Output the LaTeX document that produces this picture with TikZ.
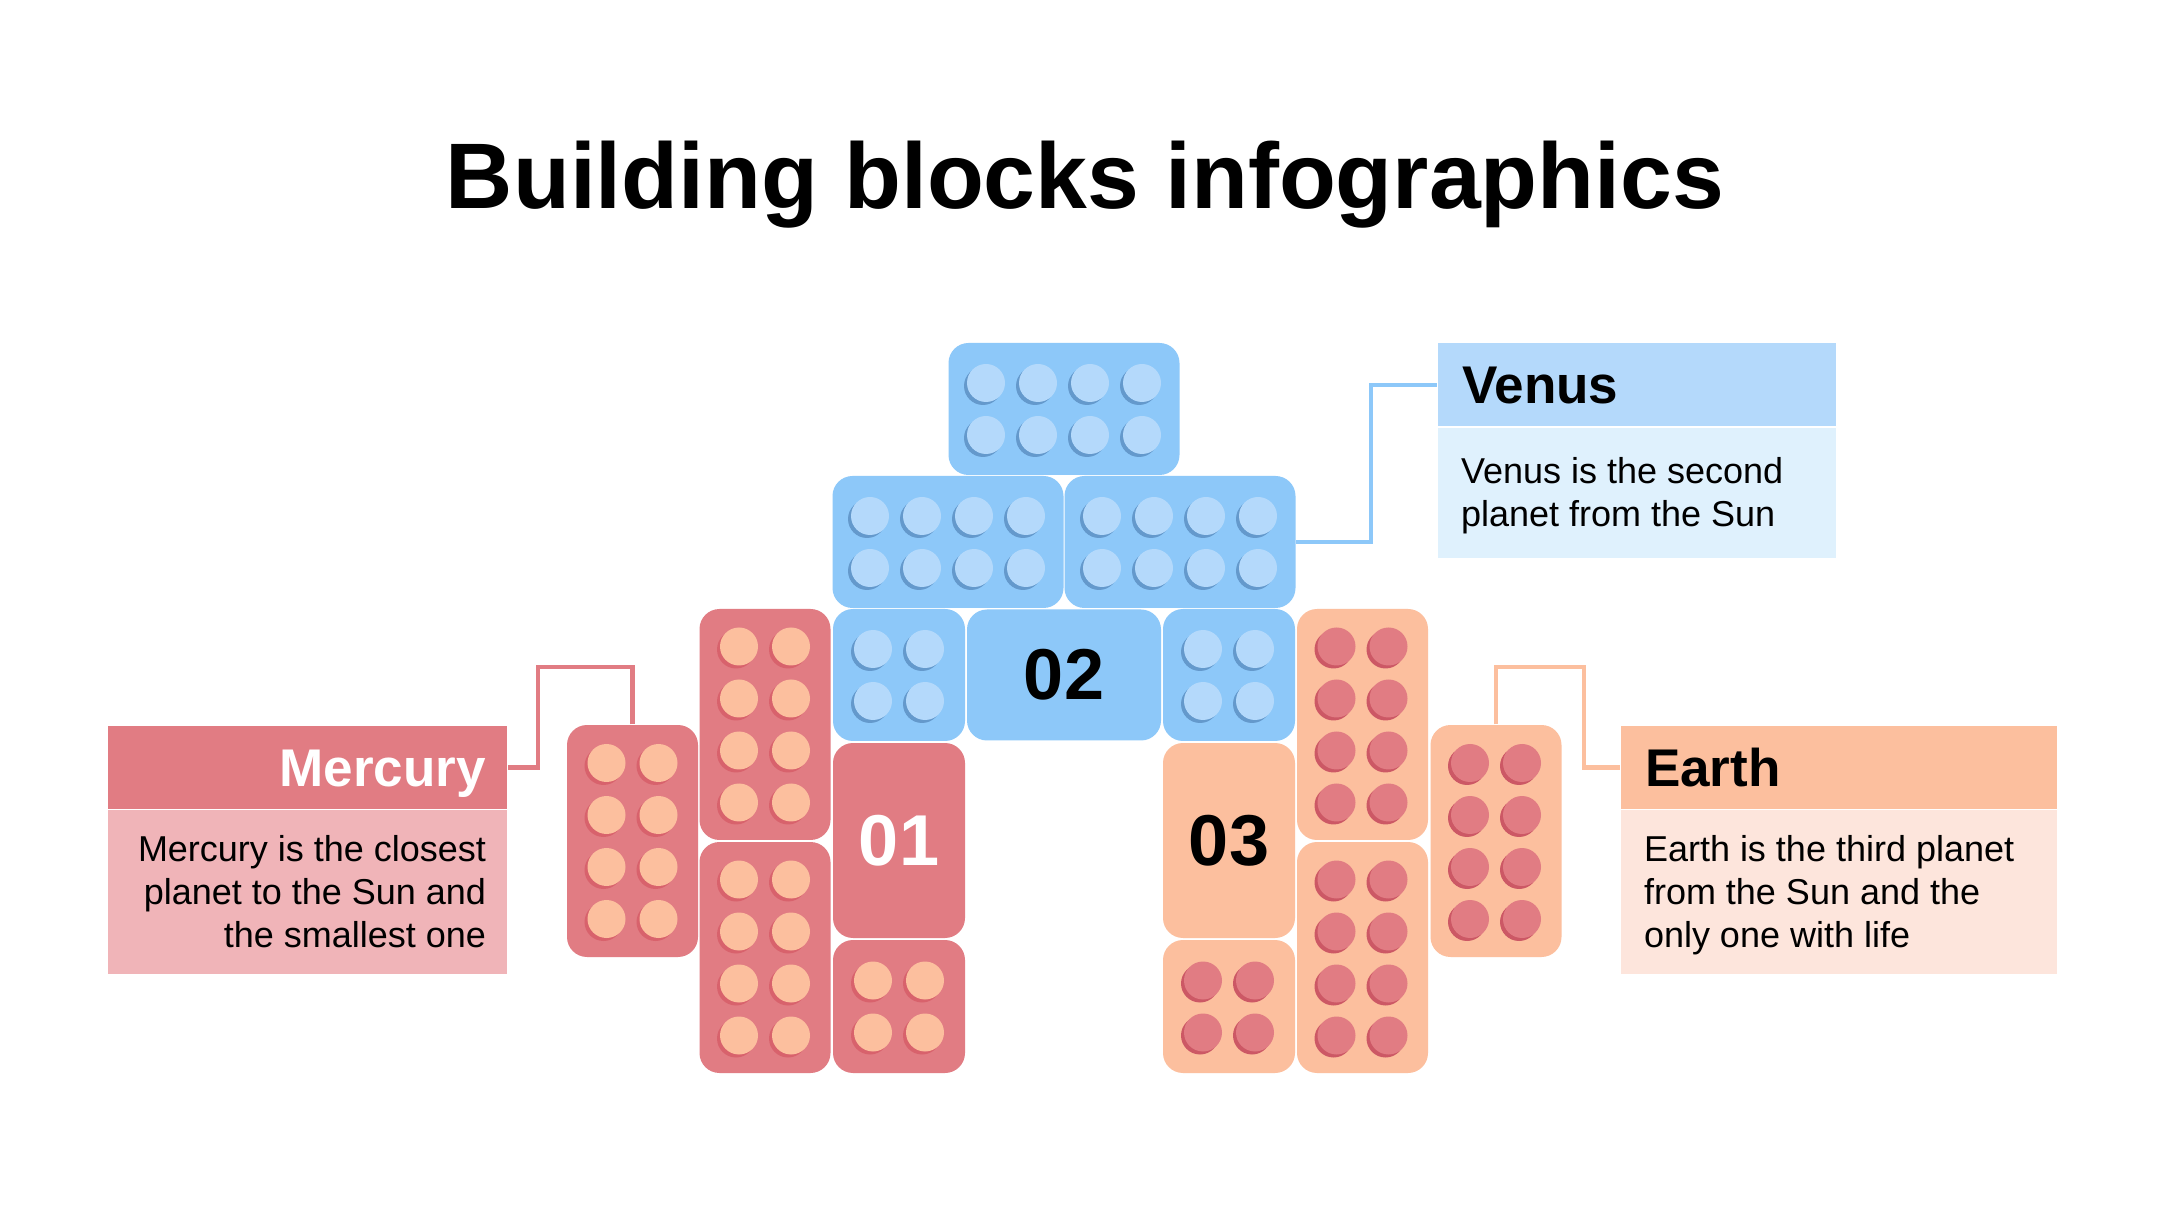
\documentclass[tikz,border=0pt]{standalone}
\usepackage{fontspec}
\setmainfont{Liberation Sans}
\usetikzlibrary{positioning}

\definecolor{sky}{HTML}{8DC8F9}
\definecolor{skystud}{HTML}{B4D9FB}
\definecolor{skyshade}{HTML}{6499CC}
\definecolor{skypale}{HTML}{DFF1FD}
\definecolor{rose}{HTML}{E17C83}
\definecolor{roseshade}{HTML}{CC5865}
\definecolor{rosepale}{HTML}{F0B4B8}
\definecolor{peach}{HTML}{FCBF9E}
\definecolor{peachshade}{HTML}{D8626C}
\definecolor{peachpale}{HTML}{FDE5DC}

% studs of a brick: centre x, centre y, columns, rows, stud colour, shade colour
\newcommand{\studs}[6]{%
  \foreach \i in {1,...,#3}{\foreach \j in {1,...,#4}{
    \fill[#6] ({#1+(\i-(#3+1)/2)*52-3},{#2+(\j-(#4+1)/2)*52+3}) circle[radius=1.9mm];
    \fill[#5] ({#1+(\i-(#3+1)/2)*52},{#2+(\j-(#4+1)/2)*52}) circle[radius=1.9mm];
  }}}

\begin{document}
\begin{tikzpicture}[x=0.1mm,y=-0.1mm,
  brick/.style={rounded corners=2mm, inner sep=0pt},
  wide/.style={brick, minimum width=23.1mm, minimum height=13.2mm},
  square/.style={brick, minimum width=13.2mm, minimum height=13.2mm},
  tall/.style={brick, minimum width=13.1mm, minimum height=23.1mm},
  numbox/.style={brick, minimum width=13.2mm, minimum height=19.5mm, text height=5mm, text depth=0pt, font=\fontsize{20.5}{24}\selectfont\bfseries},
  head/.style={minimum height=8.3mm, text height=3.8mm, text depth=0pt, inner ysep=0pt, font=\fontsize{15.1}{18}\selectfont\bfseries},
  body/.style={minimum height=16.4mm, inner sep=0pt},
  info/.style={inner sep=0pt, font=\fontsize{10.24}{12.24}\selectfont},
  link/.style={line width=1.2pt}]
\fill[white] (0,0) rectangle (2160,1215);
\useasboundingbox (0,0) rectangle (2160,1215);

\node[font=\fontsize{26.5}{32}\selectfont\bfseries, anchor=base] (title) at (1085,209) {Building blocks infographics};

% Venus bricks
\node[wide, fill=sky] (top) at (1064,409) {};
\node[wide, fill=sky] (r2L) at (948,542) {};
\node[wide, fill=sky] (r2R) at (1180,542) {};
\node[square, fill=sky] (b3L) at (899,675) {};
\node[square, fill=sky] (b3R) at (1229,675) {};
\node[brick, fill=sky, minimum width=19.4mm, minimum height=13.1mm, text height=5mm, text depth=0pt, font=\fontsize{20.5}{24}\selectfont\bfseries] (num2) at (1064,675) {02};
\studs{1064}{409}{4}{2}{skystud}{skyshade}
\studs{948}{542}{4}{2}{skystud}{skyshade}
\studs{1180}{542}{4}{2}{skystud}{skyshade}
\studs{899}{675}{2}{2}{skystud}{skyshade}
\studs{1229}{675}{2}{2}{skystud}{skyshade}

% Mercury bricks
\node[tall, fill=rose] (tallL1) at (765,724.5) {};
\node[tall, fill=rose] (tallL2) at (765,957.5) {};
\node[tall, fill=rose, minimum height=23.2mm] (sideL) at (632.5,841) {};
\node[numbox, fill=rose, text=white] (num1) at (899,840.5) {01};
\node[square, fill=rose, minimum height=13.3mm] (smallL) at (899,1006.5) {};
\studs{765}{724.5}{2}{4}{peach}{peachshade}
\studs{765}{957.5}{2}{4}{peach}{peachshade}
\studs{632.5}{841}{2}{4}{peach}{peachshade}
\studs{899}{1006.5}{2}{2}{peach}{peachshade}

% Earth bricks
\node[tall, fill=peach] (tallR1) at (1362.5,724.5) {};
\node[tall, fill=peach] (tallR2) at (1362.5,957.5) {};
\node[tall, fill=peach, minimum height=23.2mm] (sideR) at (1496,841) {};
\node[numbox, fill=peach] (num3) at (1229,840.5) {03};
\node[square, fill=peach, minimum height=13.3mm] (smallR) at (1229,1006.5) {};
\studs{1362.5}{724.5}{2}{4}{rose}{roseshade}
\studs{1362.5}{957.5}{2}{4}{rose}{roseshade}
\studs{1496}{841}{2}{4}{rose}{roseshade}
\studs{1229}{1006.5}{2}{2}{rose}{roseshade}

% labels
\node[head, fill=rose, text=white, text width=35.7mm, inner xsep=2.1mm, align=right] (mhead) at (307.5,767.5) {Mercury};
\node[body, fill=rosepale, minimum width=39.9mm, below=0pt of mhead] (mbody) {};
\node[info, anchor=north east, align=right] (mtext) at ([xshift=-2.1mm,yshift=-2.5mm]mbody.north east) {Mercury is the closest\\planet to the Sun and\\the smallest one};

\node[head, fill=skystud, text width=35mm, inner xsep=2.4mm, align=left] (vhead) at (1637,385) {Venus};
\node[body, fill=skypale, minimum width=39.8mm, minimum height=13mm, below=0pt of vhead] (vbody) {};
\node[info, anchor=north west, align=left] (vtext) at ([xshift=2.3mm,yshift=-3mm]vbody.north west) {Venus is the second\\planet from the Sun};

\node[head, fill=peach, text width=38.8mm, inner xsep=2.4mm, align=left] (ehead) at (1839,767.5) {Earth};
\node[body, fill=peachpale, minimum width=43.6mm, below=0pt of ehead] (ebody) {};
\node[info, anchor=north west, align=left] (etext) at ([xshift=2.3mm,yshift=-2.5mm]ebody.north west) {Earth is the third planet\\from the Sun and the\\only one with life};

% connectors
\draw[link, rose] (sideL.north) -- ++(0,-57) -| ([xshift=3mm]mhead.east) -- (mhead.east);
\draw[link, sky] (r2R.east) -- ++(75,0) |- (vhead.west);
\draw[link, peach] (sideR.north) -- ++(0,-57) -| ([xshift=-3.6mm]ehead.west) -- (ehead.west);
\end{tikzpicture}
\end{document}
